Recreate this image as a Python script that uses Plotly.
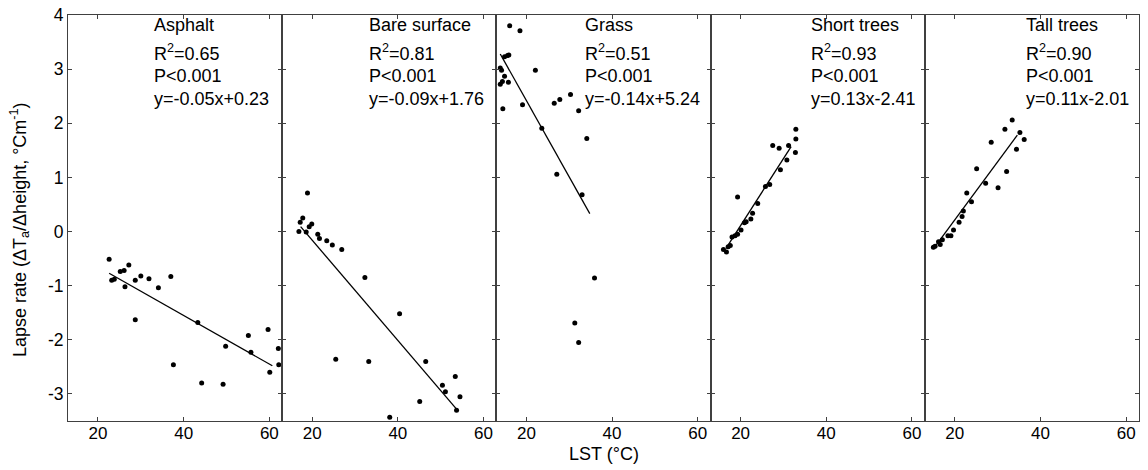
import plotly.graph_objects as go
from plotly.subplots import make_subplots

# ---------------- data ----------------
surfaces = ["Asphalt", "Bare surface", "Grass", "Short trees", "Tall trees"]
r2_values = ["0.65", "0.81", "0.51", "0.93", "0.90"]
p_labels = ["P<0.001", "P<0.001", "P<0.001", "P<0.001", "P<0.001"]
equations = ["y=-0.05x+0.23", "y=-0.09x+1.76", "y=-0.14x+5.24", "y=0.13x-2.41", "y=0.11x-2.01"]

asphalt_lst = [22.6, 23.2, 23.8, 25.2, 26.1, 27.2, 26.3, 28.7, 28.7, 30.0, 31.9, 34.1,
               37.0, 37.6, 43.3, 44.2, 49.2, 49.8, 55.1, 55.7, 59.7, 60.1, 62.1, 62.2]
asphalt_rate = [-0.51, -0.90, -0.88, -0.74, -0.72, -0.62, -1.02, -0.90, -1.63, -0.82, -0.87, -1.04,
                -0.83, -2.46, -1.68, -2.80, -2.82, -2.12, -1.92, -2.23, -1.81, -2.60, -2.16, -2.46]

bare_lst = [16.9, 17.2, 17.8, 18.6, 18.9, 19.3, 19.9, 21.3, 21.7, 23.4, 24.7, 25.5,
            26.9, 32.3, 33.2, 38.1, 40.4, 45.1, 46.5, 50.4, 51.1, 53.4, 53.7, 54.5]
bare_rate = [0.00, 0.17, 0.25, -0.01, 0.71, 0.09, 0.14, -0.05, -0.13, -0.17, -0.25, -2.36,
             -0.33, -0.85, -2.40, -3.43, -1.52, -3.14, -2.40, -2.84, -2.96, -2.68, -3.30, -3.05]

grass_lst = [16.1, 18.5, 13.9, 14.2, 14.9, 15.6, 15.9, 14.9, 13.9, 14.4, 15.8, 14.5, 19.1,
             22.1, 23.6, 26.5, 27.8, 27.1, 30.3, 32.2, 34.1, 33.0, 35.9, 31.3, 32.2]
grass_rate = [3.80, 3.71, 3.02, 2.98, 3.23, 3.25, 3.26, 2.87, 2.72, 2.77, 2.76, 2.27, 2.34,
              2.98, 1.91, 2.37, 2.44, 1.06, 2.53, 2.23, 1.72, 0.68, -0.86, -1.69, -2.05]

short_lst = [16.0, 16.7, 17.1, 17.6, 18.0, 18.7, 19.3, 19.3, 20.1, 20.9, 21.3, 22.4,
             22.8, 24.0, 25.8, 26.8, 27.5, 29.0, 29.3, 30.8, 31.2, 32.8, 32.9, 32.9]
short_rate = [-0.33, -0.38, -0.28, -0.26, -0.10, -0.08, -0.05, 0.64, 0.03, 0.16, 0.18, 0.23,
              0.34, 0.52, 0.83, 0.87, 1.59, 1.54, 1.14, 1.32, 1.59, 1.46, 1.71, 1.89]

tall_lst = [15.0, 15.4, 16.2, 16.6, 17.1, 18.4, 19.1, 19.7, 21.0, 21.7, 22.0, 22.8,
            23.9, 25.1, 27.2, 28.5, 30.1, 31.7, 32.1, 33.4, 34.4, 35.2, 36.2]
tall_rate = [-0.29, -0.27, -0.19, -0.24, -0.15, -0.08, -0.08, 0.03, 0.17, 0.28, 0.38, 0.71,
             0.55, 1.16, 0.89, 1.65, 0.81, 1.89, 1.11, 2.06, 1.52, 1.83, 1.70]

fit_lst = [[22.6, 60.7], [17.3, 53.7], [13.9, 34.8], [16.6, 31.8], [15.0, 34.6]]
fit_rate = [[-0.77, -2.48], [0.09, -3.28], [3.28, 0.33], [-0.31, 1.57], [-0.32, 1.78]]

x_ticks = [20, 40, 60]
x_tick_labels = ["20", "40", "60"]
y_ticks = [-3, -2, -1, 0, 1, 2, 3, 4]
y_tick_labels = ["-3", "-2", "-1", "0", "1", "2", "3", "4"]

all_lst = [asphalt_lst, bare_lst, grass_lst, short_lst, tall_lst]
all_rate = [asphalt_rate, bare_rate, grass_rate, short_rate, tall_rate]

# ---------------- figure ----------------
FONT = "Liberation Sans, Arial, sans-serif"
AXCOL = "#404040"

fig = make_subplots(rows=1, cols=5, shared_yaxes=True, horizontal_spacing=0)

for i in range(5):
    col = i + 1
    fig.add_trace(go.Scatter(x=all_lst[i], y=all_rate[i], mode="markers",
                             marker=dict(color="black", size=5),
                             showlegend=False, cliponaxis=False), row=1, col=col)
    fig.add_trace(go.Scatter(x=fit_lst[i], y=fit_rate[i], mode="lines",
                             line=dict(color="black", width=1.3),
                             showlegend=False), row=1, col=col)
    fig.update_xaxes(range=[13, 63], tickvals=x_ticks, ticktext=x_tick_labels,
                     ticks="inside", ticklen=4, ticklabelstandoff=-3,
                     showline=True, mirror="ticks", linecolor=AXCOL, linewidth=1,
                     tickcolor=AXCOL, showgrid=False, zeroline=False, automargin=False,
                     tickfont=dict(family=FONT, size=17, color="black"),
                     row=1, col=col)
    fig.update_yaxes(range=[-3.5, 4], tickvals=y_ticks, ticktext=y_tick_labels,
                     ticks="inside", ticklen=4,
                     showline=True, mirror="ticks", linecolor=AXCOL, linewidth=1,
                     tickcolor=AXCOL, showgrid=False, zeroline=False, automargin=False,
                     tickfont=dict(family=FONT, size=17.5, color="black"),
                     row=1, col=col)

    xref = "x" if i == 0 else f"x{col}"
    text_x = [32.6, 32.7, 33.2, 36.0, 36.1][i]
    lines = [surfaces[i], f"R<sup>2</sup>={r2_values[i]}", p_labels[i], equations[i]]
    ys = [3.82, 3.30, 2.88, 2.45]
    for txt, yv in zip(lines, ys):
        fig.add_annotation(x=text_x, y=yv, xref=xref, yref="y", text=txt,
                           showarrow=False, xanchor="left", yanchor="middle",
                           font=dict(family=FONT, size=18, color="black"))

# axis titles as annotations
fig.add_annotation(xref="paper", yref="paper", x=0.5, y=-0.081, text="LST (°C)",
                   showarrow=False, xanchor="center", yanchor="middle",
                   font=dict(family=FONT, size=18, color="black"))
fig.add_annotation(xref="paper", yref="paper", x=(20 - 68) / 1071, y=(421 - 230) / 406,
                   text="Lapse rate (ΔT<sub>a</sub>/Δheight, °Cm<sup>-1</sup>)",
                   textangle=-90, showarrow=False, xanchor="center", yanchor="middle",
                   font=dict(family=FONT, size=18, color="black"))

fig.update_layout(width=1148, height=470,
                  margin=dict(l=68, r=9, t=15, b=49, autoexpand=False),
                  paper_bgcolor="white", plot_bgcolor="white",
                  font=dict(family=FONT, color="black"))

fig.write_html("out.html", config={"displayModeBar": False},
               post_script="document.body.style.margin='0';")
